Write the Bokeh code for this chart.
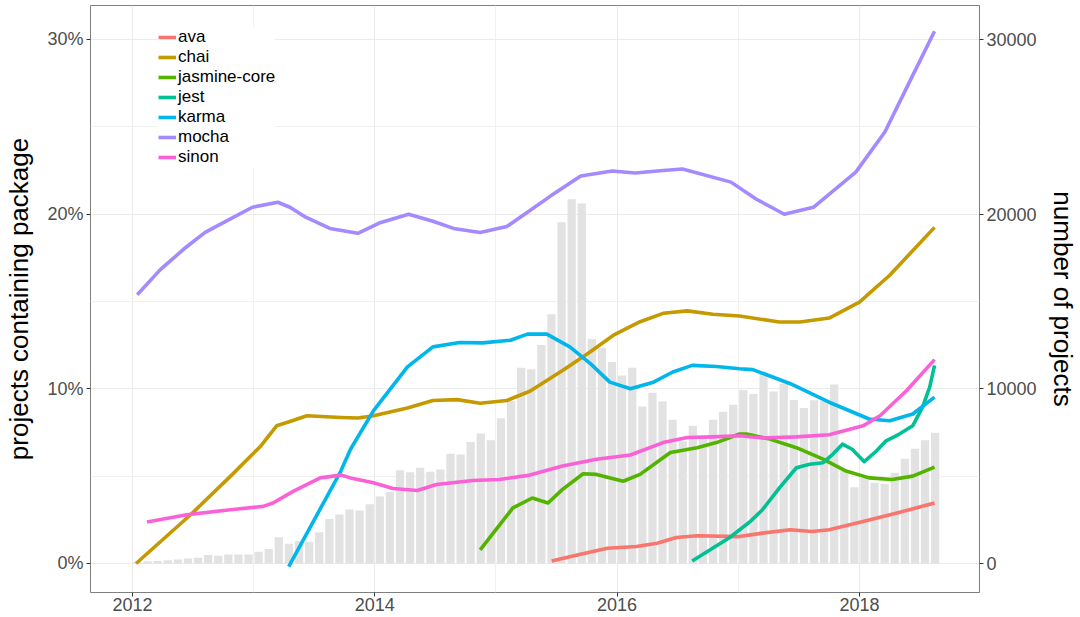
from bokeh.plotting import figure
from bokeh.models import Range1d, LinearAxis, FixedTicker, PrintfTickFormatter, Legend, LegendItem
from bokeh.embed import file_html
from bokeh.resources import INLINE

# ---------------- data ----------------
# monthly number of projects (Jan 2012 .. Aug 2018), bar centred mid-month
bar_counts = [
    100, 130, 150, 190, 230, 290, 330, 480, 440, 520, 520, 520,            # 2012
    670, 830, 1500, 1130, 1290, 1250, 1790, 2550, 2810, 3090, 3030, 3390,   # 2013
    3840, 4100, 5340, 5230, 5480, 5250, 5380, 6280, 6240, 6960, 7440, 7050, # 2014
    8320, 9320, 11200, 11120, 12500, 14270, 19540, 20850, 20600, 12850, 12350, 11530,  # 2015
    10760, 11200, 8990, 9780, 9270, 8230, 7000, 7880, 7300, 8230, 8690, 9090,          # 2016
    9930, 9700, 10850, 9840, 10280, 9360, 8900, 9350, 9300, 10250, 5300, 4370,        # 2017
    4900, 4620, 4550, 5190, 6000, 6570, 7050, 7490,                                   # 2018
]
bar_months = [2012 + (i + 0.5) / 12 for i in range(len(bar_counts))]

packages = ["ava", "chai", "jasmine-core", "jest", "karma", "mocha", "sinon"]
colors = ["#F8766D", "#C49A00", "#53B400", "#00C094", "#00B6EB", "#A58AFF", "#FB61D7"]

ava_t = [2015.46, 2015.69, 2015.92, 2016.16, 2016.33, 2016.49, 2016.66, 2017.01, 2017.20,
         2017.43, 2017.61, 2017.75, 2018.03, 2018.31, 2018.62]
ava_v = [0.14, 0.52, 0.87, 0.97, 1.16, 1.49, 1.59, 1.54, 1.74, 1.93, 1.83, 1.93, 2.41, 2.89, 3.46]

chai_t = [2012.03, 2012.48, 2012.81, 2013.06, 2013.19, 2013.30, 2013.44, 2013.72, 2013.86,
          2013.99, 2014.27, 2014.48, 2014.68, 2014.87, 2015.09, 2015.28, 2015.55, 2015.75,
          2015.97, 2016.19, 2016.38, 2016.58, 2016.79, 2017.01, 2017.34, 2017.51, 2017.75,
          2018.00, 2018.25, 2018.62]
chai_v = [0.0, 2.79, 5.0, 6.73, 7.88, 8.13, 8.46, 8.36, 8.33, 8.46, 8.90, 9.33, 9.38, 9.17,
          9.33, 9.86, 11.05, 11.98, 13.07, 13.84, 14.32, 14.46, 14.27, 14.17, 13.82, 13.82,
          14.05, 14.96, 16.50, 19.24]

jasmine_t = [2014.87, 2015.01, 2015.14, 2015.30, 2015.43, 2015.55, 2015.72, 2015.83, 2016.05,
             2016.19, 2016.44, 2016.66, 2016.82, 2017.01, 2017.07, 2017.26, 2017.48, 2017.70,
             2017.89, 2018.08, 2018.27, 2018.44, 2018.62]
jasmine_v = [0.78, 2.02, 3.18, 3.75, 3.46, 4.24, 5.14, 5.10, 4.71, 5.10, 6.35, 6.63, 6.92,
             7.41, 7.41, 7.12, 6.63, 5.97, 5.29, 4.90, 4.81, 5.00, 5.52]

jest_t = [2016.62, 2016.93, 2017.10, 2017.20, 2017.34, 2017.48, 2017.59, 2017.70, 2017.78,
          2017.86, 2017.94, 2018.04, 2018.14, 2018.22, 2018.33, 2018.44, 2018.52, 2018.58, 2018.62]
jest_v = [0.14, 1.49, 2.41, 3.08, 4.33, 5.48, 5.68, 5.77, 6.25, 6.83, 6.54, 5.83, 6.44, 7.02,
          7.41, 7.88, 8.94, 10.09, 11.34]

karma_t = [2013.29, 2013.72, 2013.80, 2013.99, 2014.27, 2014.48, 2014.70, 2014.89, 2015.12,
           2015.26, 2015.42, 2015.61, 2015.78, 2015.94, 2016.11, 2016.30, 2016.46, 2016.62,
           2016.82, 2017.01, 2017.12, 2017.43, 2017.75, 2018.08, 2018.25, 2018.44, 2018.62]
karma_v = [-0.18, 5.29, 6.54, 8.75, 11.25, 12.40, 12.65, 12.63, 12.78, 13.13, 13.13, 12.40,
           11.44, 10.38, 10.00, 10.38, 10.96, 11.34, 11.28, 11.15, 11.10, 10.29, 9.23, 8.27,
           8.17, 8.56, 9.52]

mocha_t = [2012.04, 2012.23, 2012.44, 2012.60, 2012.77, 2012.99, 2013.20, 2013.30, 2013.43,
           2013.63, 2013.86, 2014.05, 2014.28, 2014.48, 2014.65, 2014.87, 2015.09, 2015.26,
           2015.45, 2015.70, 2015.96, 2016.15, 2016.33, 2016.54, 2016.94, 2017.15, 2017.38,
           2017.62, 2017.97, 2018.21, 2018.44, 2018.62]
mocha_v = [15.38, 16.82, 18.09, 18.95, 19.58, 20.39, 20.68, 20.39, 19.82, 19.18, 18.90, 19.52,
           19.99, 19.59, 19.18, 18.95, 19.29, 20.10, 21.03, 22.18, 22.47, 22.35, 22.47, 22.58,
           21.83, 20.85, 19.99, 20.39, 22.40, 24.70, 27.94, 30.47]

sinon_t = [2012.12, 2012.45, 2012.81, 2013.08, 2013.16, 2013.33, 2013.55, 2013.72, 2013.80,
           2013.99, 2014.15, 2014.35, 2014.51, 2014.81, 2015.03, 2015.28, 2015.55, 2015.83,
           2016.11, 2016.38, 2016.58, 2016.79, 2017.01, 2017.20, 2017.48, 2017.75, 2018.03,
           2018.17, 2018.39, 2018.62]
sinon_v = [2.37, 2.79, 3.08, 3.27, 3.46, 4.14, 4.90, 5.06, 4.90, 4.62, 4.29, 4.18, 4.52, 4.75,
           4.81, 5.06, 5.58, 5.97, 6.21, 6.92, 7.21, 7.25, 7.31, 7.18, 7.25, 7.37, 7.88, 8.46,
           9.90, 11.67]

series_t = [ava_t, chai_t, jasmine_t, jest_t, karma_t, mocha_t, sinon_t]
series_v = [ava_v, chai_v, jasmine_v, jest_v, karma_v, mocha_v, sinon_v]

x_ticks = [2012, 2014, 2016, 2018]
x_minor = [2013, 2015, 2017]
pct_ticks = [0, 10, 20, 30]
pct_minor = [5, 15, 25]
count_ticks = [0, 10000, 20000, 30000]

# ---------------- figure ----------------
FONT = "Liberation Sans"
y_lo, y_hi = -1.66, 31.94

p = figure(width=1080, height=617, output_backend="svg", toolbar_location=None,
           x_range=Range1d(2011.654, 2018.991), y_range=Range1d(y_lo, y_hi),
           min_border_left=90, min_border_right=100, min_border_top=5, min_border_bottom=25)
p.extra_y_ranges = {"n": Range1d(y_lo * 1000, y_hi * 1000)}

p.background_fill_color = "white"
p.border_fill_color = "white"
p.outline_line_color = "#7F7F7F"
p.outline_line_width = 1

# bars
p.vbar(x=bar_months, top=bar_counts, width=0.068, y_range_name="n",
       fill_color="#E2E2E2", line_color=None)

# lines
items = []
for name, col, t, v in zip(packages, colors, series_t, series_v):
    r = p.line(t, v, line_color=col, line_width=3.6, line_join="round")
    items.append(LegendItem(label=name, renderers=[r]))

# axes
xax = p.xaxis[0]
xax.ticker = FixedTicker(ticks=x_ticks, minor_ticks=x_minor)
xax.formatter = PrintfTickFormatter(format="%d")
yax = p.yaxis[0]
yax.ticker = FixedTicker(ticks=pct_ticks, minor_ticks=pct_minor)
yax.formatter = PrintfTickFormatter(format="%d%%")
yax.axis_label = "projects containing package"

rax = LinearAxis(y_range_name="n", ticker=FixedTicker(ticks=count_ticks),
                 formatter=PrintfTickFormatter(format="%d"),
                 axis_label="number of projects")
p.add_layout(rax, "right")

for ax in [xax, yax, rax]:
    ax.axis_line_color = None
    ax.major_tick_line_color = "#333333"
    ax.major_tick_in = 0
    ax.major_tick_out = 4
    ax.minor_tick_line_color = None
    ax.major_label_text_font = FONT
    ax.major_label_text_font_size = "18px"
    ax.major_label_text_color = "#4D4D4D"
    ax.major_label_standoff = 3
    ax.axis_label_text_font = FONT
    ax.axis_label_text_font_size = "26px"
    ax.axis_label_text_font_style = "normal"
    ax.axis_label_text_color = "black"
xax.major_label_standoff = 1
yax.axis_label_standoff = 10
rax.axis_label_standoff = 8

for g in [p.xgrid[0], p.ygrid[0]]:
    g.grid_line_color = "#EBEBEB"
    g.grid_line_width = 1
    g.minor_grid_line_color = "#F1F1F1"
    g.minor_grid_line_width = 1

legend = Legend(items=items, location=(68, 425))
legend.background_fill_color = "white"
legend.background_fill_alpha = 1
legend.border_line_color = None
legend.label_text_font = FONT
legend.label_text_font_size = "17px"
legend.label_text_color = "black"
legend.glyph_width = 18
legend.glyph_height = 16
legend.label_height = 16
legend.label_standoff = 2
legend.spacing = 0
legend.padding = 8
legend.margin = 0
p.add_layout(legend, "center")

open("out.html", "w").write(file_html(p, INLINE))
